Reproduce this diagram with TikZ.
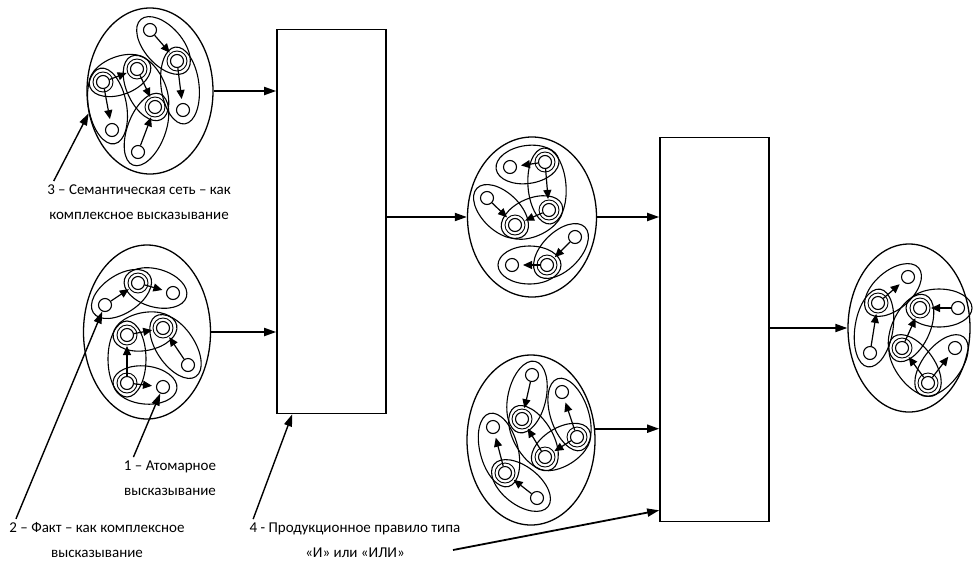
\documentclass[tikz,border=0pt]{standalone}
\usepackage{fontspec}
\setmainfont{Carlito}
\usetikzlibrary{calc, arrows.meta, shapes.geometric}
\tikzset{
  font=\fontsize{15}{25}\selectfont,
  % Set arrowhead
  >={Triangle[length=12pt, width=8pt]},
  % vertex of a net
  vert/.style={draw, shape=circle, minimum size=13pt, inner sep=0pt, line width=1.1pt},
  % ring round a shared vertex
  ring/.style={draw, shape=circle, minimum size=20pt, inner sep=0pt, line width=0.9pt},
  % semantic net
  net/.style={draw, shape=ellipse, inner sep=0pt, line width=1.3pt},
  % atomic statement
  stmt/.style={draw, shape=ellipse, minimum height=38pt, inner sep=0pt, line width=1.1pt},
  % link inside a statement
  link/.style={-{Triangle[length=9pt, width=8pt]}, shorten >=4pt, line width=1.2pt},
  % production rule
  rule/.style={draw, shape=rectangle, minimum width=109pt, minimum height=384pt, line width=1.6pt},
  % Arrows
  flow/.style={->, line width=1.8pt},
  callout/.style={->, line width=1.4pt},
  lbl/.style={align=center},
}
% ellipse round two vertices, with the link between them
\newcommand{\stmtpair}[2]{%
  \path let \p1=($(#2)-(#1)$), \n1={atan2(\y1,\x1)}, \n2={veclen(\x1,\y1)} in
    ($(#1)!0.5!(#2)$) node[stmt, rotate=\n1, minimum width=\n2+28] {};
  \draw[link] (#1) -- (#2);
}

\begin{document}
\begin{tikzpicture}[x=1pt, y=-1pt]
  \useasboundingbox (0,0) rectangle (973,560);

  % production rules
  \node[rule] (rule1) at (331.5,221.5) {};
  \node[rule] (rule2) at (714.5,329.5) {};

  % semantic nets
  \node[net, minimum width=126pt, minimum height=166pt] (net3) at (150,91) {};
  \node[net, minimum width=127pt, minimum height=174pt] (net2) at (147,332) {};
  \node[net, minimum width=129pt, minimum height=160pt] (netc) at (532,217) {};
  \node[net, minimum width=128pt, minimum height=170pt] (netd) at (531,440) {};
  \node[net, minimum width=122pt, minimum height=168pt] (nete) at (909,328) {};

  \foreach \v/\x/\y in {a1/150/30, a2/177/61, a3/183/110, a4/137/69,
      a5/103/82, a6/112/130, a7/155/107, a8/138/152,
      b1/105/305, b2/138/283, b3/173/293, b4/127/335,
      b5/163/328, b6/188/365, b7/127/383, b8/163/387,
      c1/510/167, c2/545/162, c3/549/210, c4/487/198,
      c5/515/225, c6/575/237, c7/547/265, c8/512/265,
      d1/532/375, d2/522/419, d3/562/392, d4/577/437,
      d5/545/457, d6/493/427, d7/505/473, d8/537/498,
      e1/908/277, e2/878/303, e3/870/353, e4/920/308,
      e5/958/308, e6/902/348, e7/928/383, e8/955/348}
    \node[vert] (\v) at (\x,\y) {};

  % vertices shared by two statements
  \foreach \v in {a2, a4, a5, a7, b2, b4, b5, b7, c2, c3, c5, c7,
      d2, d4, d5, d7, e2, e4, e6, e7}
    \node[ring] (\v-ring) at (\v) {};

  \foreach \s/\t in {a1/a2, a2/a3, a5/a4, a5/a6, a4/a7, a8/a7,
      b1/b2, b2/b3, b4/b5, b6/b5, b7/b4, b7/b8,
      c2/c1, c2/c3, c4/c5, c3/c5, c6/c7, c7/c8,
      d1/d2, d4/d3, d5/d2, d4/d5, d7/d6, d8/d7,
      e2/e1, e3/e2, e5/e4, e6/e4, e7/e6, e7/e8}
    \stmtpair{\s}{\t};

  % flow between nets and rules
  \draw[flow] (net3.east) -- (net3.east -| rule1.west);
  \draw[flow] (net2.east) -- (net2.east -| rule1.west);
  \draw[flow] (rule1.east |- netc.west) -- (netc.west);
  \draw[flow] (netc.east) -- (netc.east -| rule2.west);
  \draw[flow] (netd.10) -- (netd.10 -| rule2.west);
  \draw[flow] (rule2.east |- nete.west) -- (nete.west);
  \coordinate (in2) at (453,550);
  \draw[flow] (in2) -- ([yshift=12pt]rule2.south west);

  % labels
  \node[lbl] (lab3) at (139,202) {3 – Семантическая сеть – как\\комплексное высказывание};
  \node[lbl] (lab1) at (170,478) {1 – Атомарное\\высказывание};
  \node[lbl] (lab2) at (97,540) {2 – Факт – как комплексное\\высказывание};
  \node[lbl] (lab4) at (355,540) {4 - Продукционное правило типа\\«И» или «ИЛИ»};

  \draw[callout] ([xshift=10pt]lab3.north west) -- (net3.200);
  \draw[callout] ([xshift=13pt]lab1.north west) -- (b8);
  \draw[callout] ([xshift=10pt]lab2.north west) -- ([shift={(-6,22)}]b1);
  \draw[callout] ([xshift=7pt]lab4.north west) -- ([xshift=16pt]rule1.south west);
\end{tikzpicture}
\end{document}
